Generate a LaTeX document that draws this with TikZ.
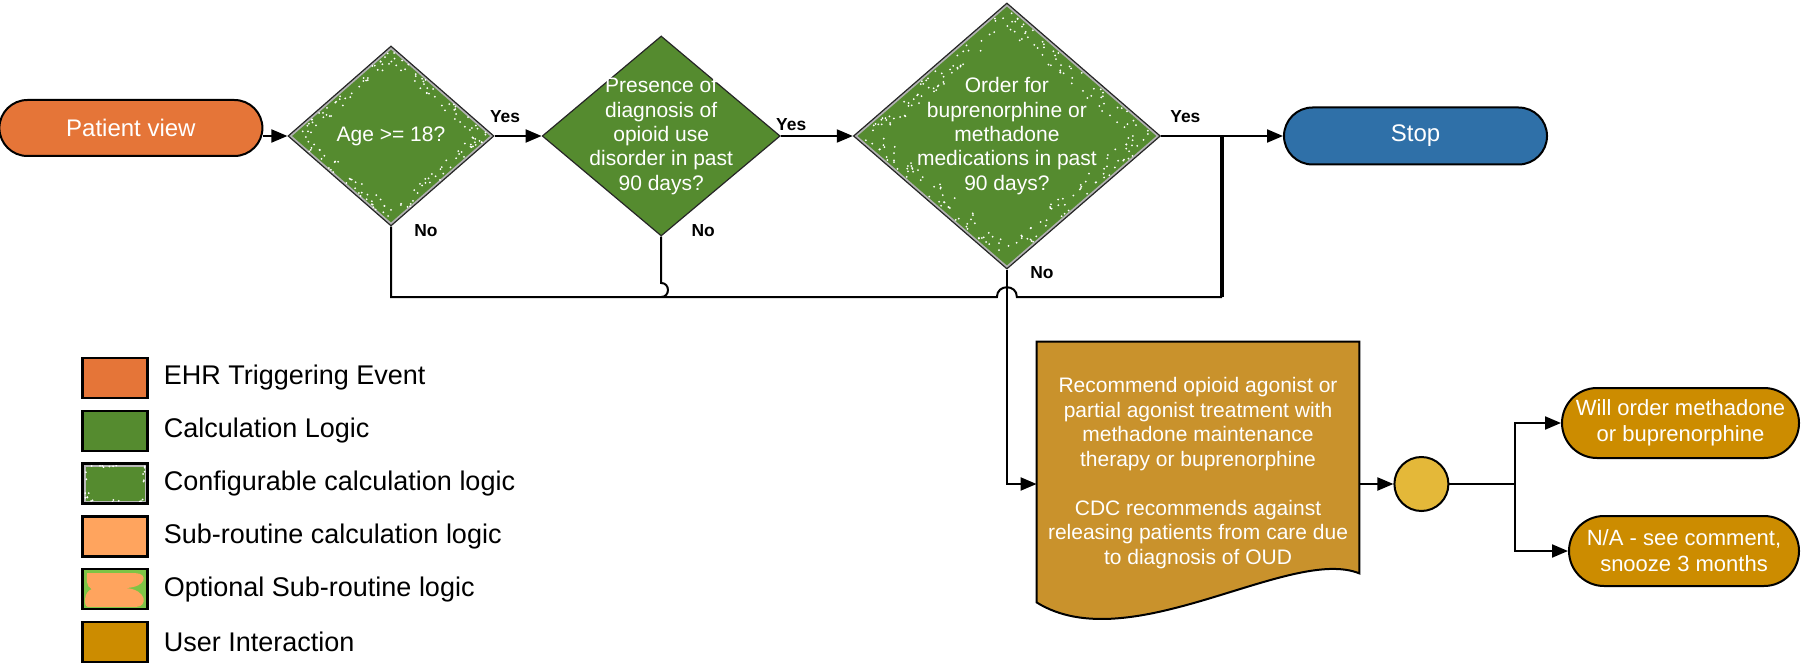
\documentclass[tikz,border=0pt]{standalone}
\usepackage{fontspec}
\setmainfont{Liberation Sans}
\usepackage{xcolor}
\usepackage{tikz}
\usetikzlibrary{shapes.geometric, shapes.misc, arrows.meta, positioning, calc, backgrounds}

\definecolor{evtorange}{RGB}{229,117,56}
\definecolor{calcgreen}{RGB}{85,139,47}
\definecolor{suborange}{RGB}{255,164,94}
\definecolor{optgreen}{RGB}{126,196,69}
\definecolor{usergold}{RGB}{204,140,0}
\definecolor{docgold}{RGB}{201,146,44}
\definecolor{choicegold}{RGB}{228,184,57}
\definecolor{stopblue}{RGB}{47,112,168}

\tikzstyle{pill} = [draw, rounded rectangle, line width=1pt, inner sep=0pt, text=white, align=center, font=\fontsize{12}{14}\selectfont]
\tikzstyle{userpill} = [pill, fill=usergold, minimum height=35pt, font=\fontsize{11}{13}\selectfont]
\tikzstyle{decision} = [draw=black!85, diamond, fill=calcgreen, inner sep=0pt, line width=0.6pt]
\tikzstyle{dtext} = [text=white, align=center, inner sep=0pt, font=\fontsize{10.5}{12.2}\selectfont]
\tikzstyle{doctext} = [minimum width=161pt, minimum height=131pt, inner sep=0pt, text=white, align=center, font=\fontsize{10.5}{12.25}\selectfont]
\tikzstyle{choice} = [draw, circle, fill=choicegold, line width=1pt, minimum size=27pt, inner sep=0pt]
\tikzstyle{yn} = [inner sep=0pt, font=\fontsize{8.7}{10}\selectfont\bfseries]
\tikzstyle{conn} = [draw, line width=1pt]
\tikzstyle{arrow} = [draw, line width=1pt, -{Triangle[length=8pt, width=6.5pt]}]
\tikzstyle{legbox} = [draw, rectangle, line width=1.2pt, minimum width=32.5pt, minimum height=20pt, inner sep=0pt]
\tikzstyle{legtext} = [inner sep=0pt, font=\fontsize{13.5}{16}\selectfont]
\tikzset{
  % white speckles along the rim of a configurable diamond
  config/.style={path picture={
    \draw[gray!60, line width=2.4pt] (path picture bounding box.north) -- (path picture bounding box.east)
      -- (path picture bounding box.south) -- (path picture bounding box.west) -- cycle;
    \pgfmathsetseed{7}
    \foreach \A/\B in {north/east, east/south, south/west, west/north}
      \foreach \i in {1,...,#1} {
        \pgfmathsetmacro{\s}{rnd}
        \pgfmathsetmacro{\f}{0.80+0.17*rnd}
        \path ($(path picture bounding box.\A)!\s!(path picture bounding box.\B)$) coordinate (spk);
        \fill[white] ($(path picture bounding box.center)!\f!(spk)$) circle (0.5pt);
      }
  }},
  configbox/.style={path picture={
    \draw[gray!55, line width=3pt] (path picture bounding box.south west) rectangle (path picture bounding box.north east);
    \pgfmathsetseed{3}
    \foreach \A/\B in {south west/south east, south east/north east, north east/north west, north west/south west}
      \foreach \i in {1,...,7} {
        \pgfmathsetmacro{\s}{rnd}
        \pgfmathsetmacro{\f}{0.80+0.12*rnd}
        \path ($(path picture bounding box.\A)!\s!(path picture bounding box.\B)$) coordinate (spk);
        \fill[white] ($(path picture bounding box.center)!\f!(spk)$) circle (0.5pt);
      }
  }}
}

\begin{document}
\begin{tikzpicture}[x=0.5pt, y=-0.5pt]
    \useasboundingbox (0,0) rectangle (1802,663);

    \node (d1) [decision, config=40, minimum width=103pt, minimum height=90pt, label={[dtext]center:Age >= 18?}] at (391,136) {};
    \node (pv) [pill, fill=evtorange, minimum width=131.5pt, minimum height=28pt, left=12pt of d1, yshift=4pt] {Patient view};
    \node (d2) [decision, minimum width=119pt, minimum height=100pt, right=23.5pt of d1, label={[dtext]center:{Presence of\\diagnosis of\\opioid use\\disorder in past\\90 days?}}] {};
    \node (d3) [decision, config=60, minimum width=153.5pt, minimum height=133pt, right=36pt of d2, label={[dtext]center:{Order for\\buprenorphine or\\methadone\\medications in past\\90 days?}}] {};
    \node (stop) [pill, fill=stopblue, minimum width=131.5pt, minimum height=28.5pt, right=61pt of d3] {Stop};

    \node (yes1) [yn, anchor=south west] at ($(d1.east)+(-5,-13)$) {Yes};
    \node (yes2) [yn, anchor=south west] at ($(d2.east)+(-5,-5)$) {Yes};
    \node (yes3) [yn, anchor=south west] at ($(d3.east)+(9,-13)$) {Yes};
    \node (no1) [yn, anchor=west] at ($(d1.south)+(23,4)$) {No};
    \node (no2) [yn, anchor=west] at ($(d2.south)+(30,-6)$) {No};
    \node (no3) [yn, anchor=west] at ($(d3.south)+(23,3)$) {No};

    \node (doc) [doctext] at (1198,473) {Recommend opioid agonist or\\partial agonist treatment with\\methadone maintenance\\therapy or buprenorphine\\[12.25pt]CDC recommends against\\releasing patients from care due\\to diagnosis of OUD};
    \node (circ) [choice, right=17pt of doc, yshift=-5.5pt] {};
    \node (will) [userpill, minimum width=118.5pt, anchor=east] at (1800,423) {Will order methadone\\or buprenorphine};
    \node (snooze) [userpill, minimum width=115pt, anchor=east] at (1800,551) {N/A - see comment,\\snooze 3 months};

    % legend
    \node (lg1) [legbox, fill=evtorange] at (115,378) {};
    \node (lg2) [legbox, fill=calcgreen, below=5.2pt of lg1] {};
    \node (lg3) [legbox, fill=calcgreen, configbox, below=5.2pt of lg2] {};
    \node (lg4) [legbox, fill=suborange, below=5.2pt of lg3] {};
    \node (lg5) [legbox, fill=optgreen, below=5.2pt of lg4] {};
    \node (lg6) [legbox, fill=usergold, below=5.2pt of lg5] {};
    \begin{scope}[shift={(lg5.south west)}, x=32.5pt, y=20pt]
        \fill [suborange] (0.09,0.93) -- (0.84,0.93) .. controls (1.02,0.93) and (1.02,0.58) .. (0.68,0.56)
            .. controls (1.02,0.52) and (1.02,0.09) .. (0.85,0.09) -- (0.1,0.09)
            .. controls (0.03,0.1) and (0.04,0.48) .. (0.16,0.53)
            .. controls (0.07,0.6) and (0.08,0.8) .. (0.09,0.93) -- cycle;
    \end{scope}
    \node (lt1) [legtext, right=7.4pt of lg1] {EHR Triggering Event};
    \node (lt2) [legtext, right=7.4pt of lg2] {Calculation Logic};
    \node (lt3) [legtext, right=7.4pt of lg3] {Configurable calculation logic};
    \node (lt4) [legtext, right=7.4pt of lg4] {Sub-routine calculation logic};
    \node (lt5) [legtext, right=7.4pt of lg5] {Optional Sub-routine logic};
    \node (lt6) [legtext, right=7.4pt of lg6] {User Interaction};

    % connectors
    \coordinate (jn) at ($(d3.east)!0.5!(stop.west)$);
    \coordinate (loopR) at ($(jn)+(0,161)$);
    \coordinate (hopL) at ($(d3.south |- loopR)+(-10,0)$);
    \coordinate (hopR) at ($(d3.south |- loopR)+(10,0)$);
    \coordinate (br) at ($(circ.east)+(66,0)$);

    \draw [arrow] (pv.east |- d1.west) -- (d1.west);
    \draw [arrow] (d1) -- (d2);
    \draw [arrow] (d2) -- (d3);
    \draw [arrow] (d3) -- (stop);
    \draw [conn] (d1.south) |- (hopL) .. controls +(0,-13) and +(0,-13) .. (hopR) -- (loopR);
    \draw [conn, line width=1.7pt] (loopR) -- (jn);
    \draw [conn] (d2.south) -- ($(d2.south |- loopR)+(0,-14)$) .. controls +(9,0) and +(9,0) .. (d2.south |- loopR);
    \draw [arrow] (d3.south) |- (doc.west |- circ);
    \draw [arrow] (doc.east |- circ) -- (circ);
    \draw [arrow] (circ) -- (br) |- (will);
    \draw [arrow] (br) |- (snooze);

    \begin{scope}[on background layer]
        \fill [white] (0,0) rectangle (1802,663);
        \draw [fill=docgold, line width=1pt] (doc.north west) -- (doc.north east) -- ($(doc.south east)+(0,-31)$)
            .. controls ($(doc.south east)+(-69,-59)$) and ($(doc.south west)+(93,56)$) .. ($(doc.south west)+(0,-2)$) -- cycle;
    \end{scope}
\end{tikzpicture}
\end{document}
